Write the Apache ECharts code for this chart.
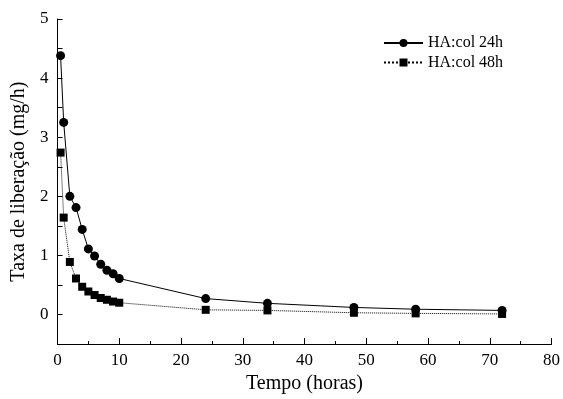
<!DOCTYPE html>
<html>
<head>
<meta charset="utf-8">
<script src="https://cdn.jsdelivr.net/npm/echarts@6/dist/echarts.min.js"></script>
<style>html,body{margin:0;padding:0;background:#fff}#c{width:563px;height:399px}</style>
</head>
<body>
<div id="c"></div>
<script>
const times = [0.5, 1, 2, 3, 4, 5, 6, 7, 8, 9, 10, 24, 34, 48, 58, 72];
const ha24 = [4.38, 3.25, 2.00, 1.81, 1.44, 1.11, 0.99, 0.85, 0.75, 0.69, 0.61, 0.27, 0.19, 0.12, 0.09, 0.07];
const ha48 = [2.74, 1.64, 0.89, 0.61, 0.47, 0.39, 0.33, 0.28, 0.25, 0.22, 0.20, 0.08, 0.07, 0.03, 0.02, 0.01];
const seriesNames = ['HA:col 24h', 'HA:col 48h'];
const xName = 'Tempo (horas)';
const yName = 'Taxa de liberação (mg/h)';

const font = 'Liberation Serif';
const chart = echarts.init(document.getElementById('c'), null, {renderer: 'canvas'});
const pairs = arr => times.map((t, i) => [t, arr[i]]);
chart.setOption({
  animation: false,
  backgroundColor: '#fff',
  textStyle: {fontFamily: font, color: '#000'},
  grid: {left: 57.5, right: 10, top: 19, bottom: 49.6, containLabel: false},
  legend: {
    orient: 'vertical', left: 378, top: 30,
    itemWidth: 39, itemHeight: 10, itemGap: 3.5,
    textStyle: {fontFamily: font, fontSize: 16, color: '#000'},
    data: seriesNames
  },
  xAxis: {
    type: 'value', min: 0, max: 80, interval: 10,
    name: xName, nameLocation: 'middle', nameGap: 26,
    nameTextStyle: {fontFamily: font, fontSize: 20, color: '#000'},
    axisLine: {show: true, onZero: false, lineStyle: {color: '#000', width: 1}},
    axisTick: {show: true, inside: true, length: 6, lineStyle: {color: '#000'}},
    minorTick: {show: true, splitNumber: 2, length: 3, lineStyle: {color: '#000'}},
    axisLabel: {fontFamily: font, fontSize: 17, color: '#000', margin: 8},
    splitLine: {show: false}
  },
  yAxis: {
    type: 'value', min: -0.5, max: 5, interval: 0.5,
    name: yName, nameLocation: 'middle', nameGap: 29, nameRotate: 90,
    nameTextStyle: {fontFamily: font, fontSize: 20, color: '#000'},
    axisLine: {show: true, onZero: false, lineStyle: {color: '#000', width: 1}},
    axisTick: {show: true, inside: true, length: 5, lineStyle: {color: '#000'}},
    axisLabel: {fontFamily: font, fontSize: 17, color: '#000', margin: 9,
      formatter: v => Math.abs(v - Math.round(v)) < 1e-6 ? String(Math.round(v)) : ''},
    splitLine: {show: false}
  },
  series: [
    {
      name: seriesNames[0], type: 'line', data: pairs(ha24),
      symbol: 'circle', symbolSize: 9,
      lineStyle: {color: '#000', width: 1, type: 'solid'},
      itemStyle: {color: '#000'}
    },
    {
      name: seriesNames[1], type: 'line', data: pairs(ha48),
      symbol: 'rect', symbolSize: 8,
      lineStyle: {color: '#000', width: 1, type: 'dotted'},
      itemStyle: {color: '#000'}
    }
  ]
});
</script>
</body>
</html>
